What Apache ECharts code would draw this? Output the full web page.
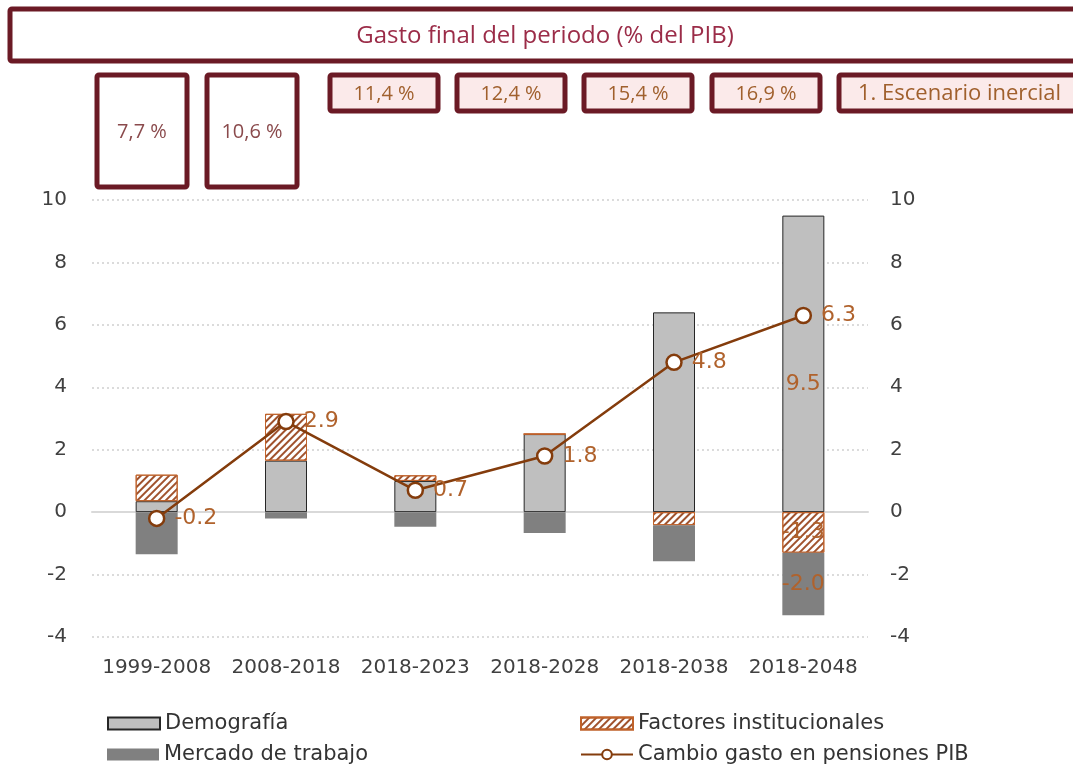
<!DOCTYPE html>
<html>
<head>
<meta charset="utf-8">
<script src="https://cdn.jsdelivr.net/npm/echarts@6/dist/echarts.min.js"></script>
<style>
  html, body { margin: 0; padding: 0; background: #fff; }
  #chart { width: 1073px; height: 767px; }
</style>
</head>
<body>
<div id="chart"></div>
<script>
var categories = ['1999-2008', '2008-2018', '2018-2023', '2018-2028', '2018-2038', '2018-2048'];
var demografia = [0.35, 1.65, 1.0, 2.5, 6.4, 9.5];
var factores = [0.85, 1.5, 0.18, 0, -0.42, -1.3];
var mercado = [-1.35, -0.2, -0.47, -0.67, -1.15, -2.0];
var cambioGasto = [-0.2, 2.9, 0.7, 1.8, 4.8, 6.3];
var gastoFinal = ['7,7 %', '10,6 %', '11,4 %', '12,4 %', '15,4 %', '16,9 %'];
var escenario = '1. Escenario inercial';
var tituloCaja = 'Gasto final del periodo (% del PIB)';

var font = 'DejaVu Sans';
var brown = '#843C0C';
var labelBrown = '#B0622C';
var frame = '#6B1A25';

// only the last period carries labels on the bars
function withLastLabel(values) {
    return values.map(function(v, i) {
        if (i !== values.length - 1) return v;
        return { value: v, label: { show: true } };
    });
}

var chart = echarts.init(document.getElementById('chart'));

// boxes above the plot
var boxes = [
    { x: 97, y: 75, w: 90, h: 112, fill: '#fff', color: '#8A4A4C' },
    { x: 207, y: 75, w: 90, h: 112, fill: '#fff', color: '#8A4A4C' },
    { x: 330, y: 75, w: 108, h: 36, fill: '#FBEAEA', color: '#A0602D' },
    { x: 457, y: 75, w: 108, h: 36, fill: '#FBEAEA', color: '#A0602D' },
    { x: 584, y: 75, w: 108, h: 36, fill: '#FBEAEA', color: '#A0602D' },
    { x: 712, y: 75, w: 108, h: 36, fill: '#FBEAEA', color: '#A0602D' },
    { x: 839, y: 75, w: 240, h: 36, fill: '#FBEAEA', color: '#A0602D' }
];
var graphics = [{
    type: 'rect',
    shape: { x: 10, y: 9, width: 1080, height: 52, r: 2 },
    style: { fill: '#fff', stroke: frame, lineWidth: 5 }
}, {
    type: 'text',
    x: 545, y: 36,
    style: {
        text: tituloCaja, fill: '#9B2C48', font: '24px "Open Sans"',
        textAlign: 'center', textVerticalAlign: 'middle'
    }
}];
boxes.forEach(function(b, i) {
    var last = i === boxes.length - 1;
    graphics.push({
        type: 'rect',
        shape: { x: b.x, y: b.y, width: b.w, height: b.h, r: 2 },
        style: { fill: b.fill, stroke: frame, lineWidth: 5 }
    });
    graphics.push({
        type: 'text',
        x: last ? b.x + 19 : b.x + b.w / 2,
        y: b.y + b.h / 2 + 1,
        style: {
            text: last ? escenario : gastoFinal[i], fill: b.color,
            font: (last ? 22 : 20) + 'px "Open Sans"',
            textAlign: last ? 'left' : 'center',
            textVerticalAlign: 'middle'
        }
    });
});

var axisLabelStyle = { color: '#404040', fontSize: 20, fontFamily: font };
var legendText = { color: '#333', fontSize: 21, fontFamily: font };

function legendAt(name, left, top, icon) {
    var l = {
        left: left, top: top,
        itemWidth: 52, itemHeight: 12,
        textStyle: legendText,
        data: [name]
    };
    if (icon) l.icon = icon;
    return l;
}

chart.setOption({
    animation: false,
    textStyle: { fontFamily: font },
    graphic: graphics,
    grid: { left: 92, right: 205, top: 200, bottom: 130 },
    legend: [
        legendAt('Demografía', 102, 708, 'rect'),
        legendAt('Mercado de trabajo', 102, 739, 'rect'),
        legendAt('Factores institucionales', 575, 708, 'rect'),
        legendAt('Cambio gasto en pensiones PIB', 575, 739)
    ],
    xAxis: [{
        type: 'category',
        data: categories,
        axisLine: { show: false, onZero: false },
        axisTick: { show: false },
        axisLabel: Object.assign({ margin: 21, interval: 0 }, axisLabelStyle)
    }, {
        type: 'category',
        data: categories,
        axisLine: { onZero: true, lineStyle: { color: '#D9D9D9', width: 2 } },
        axisTick: { show: false },
        axisLabel: { show: false }
    }],
    yAxis: [{
        type: 'value',
        min: -4, max: 10, interval: 2,
        axisLine: { show: false },
        axisTick: { show: false },
        axisLabel: Object.assign({ margin: 25 }, axisLabelStyle),
        splitLine: { lineStyle: { color: '#D0D0D0', type: [2, 3], width: 1.5 } }
    }, {
        type: 'value',
        min: -4, max: 10, interval: 2,
        axisLine: { show: false },
        axisTick: { show: false },
        axisLabel: Object.assign({ margin: 22 }, axisLabelStyle),
        splitLine: { show: false }
    }],
    series: [{
        name: 'Demografía',
        type: 'bar',
        stack: 'total',
        barWidth: 42,
        itemStyle: { color: '#BFBFBF', borderColor: '#262626', borderWidth: 1 },
        label: {
            show: false, position: 'inside', offset: [0, 20],
            color: labelBrown, fontSize: 22, fontFamily: font,
            formatter: function(p) { return p.value.toFixed(1); }
        },
        data: withLastLabel(demografia)
    }, {
        name: 'Factores institucionales',
        type: 'bar',
        stack: 'total',
        itemStyle: {
            color: '#fff', borderColor: '#C0622A', borderWidth: 1,
            decal: {
                symbol: 'rect', color: '#A0522D',
                dashArrayX: [1, 0], dashArrayY: [2, 3],
                rotation: -Math.PI / 4, symbolSize: 1
            }
        },
        label: {
            show: false, position: 'inside',
            color: labelBrown, fontSize: 22, fontFamily: font,
            formatter: function(p) { return p.value.toFixed(1); }
        },
        data: withLastLabel(factores)
    }, {
        name: 'Mercado de trabajo',
        type: 'bar',
        stack: 'total',
        itemStyle: { color: '#808080' },
        label: {
            show: false, position: 'inside',
            color: labelBrown, fontSize: 22, fontFamily: font,
            formatter: function(p) { return p.value.toFixed(1); }
        },
        data: withLastLabel(mercado)
    }, {
        name: 'Cambio gasto en pensiones PIB',
        type: 'line',
        symbol: 'circle',
        symbolSize: 15,
        z: 5,
        lineStyle: { color: brown, width: 2.5 },
        itemStyle: { color: '#fff', borderColor: brown, borderWidth: 2.5 },
        label: {
            show: true, position: 'right', distance: 9,
            color: labelBrown, fontSize: 22, fontFamily: font,
            formatter: function(p) { return p.value.toFixed(1); }
        },
        data: cambioGasto
    }]
});
</script>
</body>
</html>
